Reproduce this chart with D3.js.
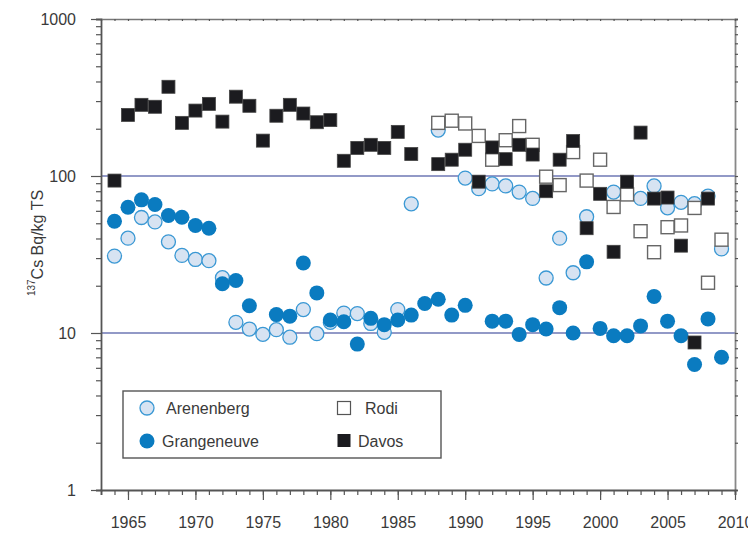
<!DOCTYPE html>
<html>
<head>
<meta charset="utf-8">
<script src="https://cdn.jsdelivr.net/npm/d3@7"></script>
<style>
  body { margin: 0; background: #fff; }
  text { font-family: "Liberation Sans", Arial, sans-serif; fill: #3a3a3a; }
</style>
</head>
<body>
<div id="chart"></div>
<script>
// values (Bq/kg TS)
var arenYears = [1964,1965,1966,1967,1968,1969,1970,1971,1972,1973,1974,1975,1976,1977,1978,1979,1980,1981,1982,1983,1984,1985,1986,1988,1990,1991,1992,1993,1994,1995,1996,1997,1998,1999,2001,2003,2004,2005,2006,2007,2008,2009];
var arenValues = [30.9,40.2,54.4,51,38.1,31.2,29.4,28.9,22.5,11.7,10.6,9.8,10.5,9.4,14.1,9.9,11.7,13.4,13.3,11.5,10.1,14.1,66.5,196,97,83,89,86.5,79,72,22.4,40.2,24.2,55,79,72,86.5,62.7,68,66.6,74.5,34.3];

var grangYears = [1964,1965,1966,1967,1968,1969,1970,1971,1972,1973,1974,1976,1977,1978,1979,1980,1981,1982,1983,1984,1985,1986,1987,1988,1989,1990,1992,1993,1994,1995,1996,1997,1998,1999,2000,2001,2002,2003,2004,2005,2006,2007,2008,2009];
var grangValues = [51.5,63.2,70.5,65.8,56,54.6,48.4,46.5,20.6,21.6,14.9,13.1,12.8,27.9,18,12.1,11.8,8.5,12.4,11.3,12.1,13,15.4,16.4,13,15,11.9,11.9,9.8,11.3,10.6,14.5,10,28.4,10.7,9.6,9.6,11.1,17.1,11.9,9.6,6.3,12.3,7];

var rodiYears = [1988,1989,1990,1991,1992,1993,1994,1995,1996,1997,1998,1999,2000,2001,2002,2003,2004,2005,2006,2007,2008,2009];
var rodiValues = [218,225,216,180,127,169,208,158,99,87.5,142,93.5,127,63.5,76.3,44.5,32.7,47.2,48.4,62.6,20.9,39.3];

var davosYears = [1964,1965,1966,1967,1968,1969,1970,1971,1972,1973,1974,1975,1976,1977,1978,1979,1980,1981,1982,1983,1984,1985,1986,1988,1989,1990,1991,1992,1993,1994,1995,1996,1997,1998,1999,2000,2001,2002,2003,2004,2005,2006,2007,2008];
var davosValues = [93.5,245,284,276,370,218,261,288,222,320,280,168,242,284,250,220,227,125,151,158,151,191,138,119,127,147,92,152,128,158,137,80,127,167,46.5,77,32.9,92,189,71.8,72.9,36,8.7,71.8];

var yMajor = [1, 10, 100, 1000];
var gridValues = [10, 100];
var xMajor = [1965,1970,1975,1980,1985,1990,1995,2000,2005,2010];

var width = 748, height = 538;
var plot = {left: 101, right: 735, top: 19, bottom: 490};

function pairs(years, values) {
    return years.map(function(y, i) { return {year: y, value: values[i]}; });
}

var svg = d3.select("#chart").append("svg")
    .attr("width", width)
    .attr("height", height);

var xScale = d3.scaleLinear().domain([1963, 2010]).range([plot.left, plot.right]);
var yScale = d3.scaleLog().domain([1, 1000]).range([plot.bottom, plot.top]);

// minor log ticks 2..9 per decade
var yMinor = [];
[1, 10, 100].forEach(function(d) {
    for (var k = 2; k <= 9; k++) yMinor.push(d * k);
});
var xMinor = d3.range(1963, 2011);

// grid lines at 10 and 100
svg.selectAll("line.grid")
    .data(gridValues)
    .enter().append("line")
    .attr("class", "grid")
    .attr("x1", plot.left).attr("x2", plot.right)
    .attr("y1", d => yScale(d)).attr("y2", d => yScale(d))
    .style("stroke", "#26348f")
    .style("stroke-width", 1.2);

function styleAxis(g, w) {
    g.select(".domain").style("stroke", "#555").style("stroke-width", w);
    g.selectAll(".tick line").style("stroke", "#555").style("stroke-width", 1.2);
    g.selectAll("text").style("font-size", "16px").style("fill", "#3a3a3a")
        .style("font-family", '"Liberation Sans", Arial, sans-serif');
}

// left axis
var yMinorAxis = svg.append("g")
    .attr("transform", "translate(" + plot.left + ",0)")
    .call(d3.axisLeft(yScale).tickValues(yMinor).tickSize(5).tickFormat(""));
styleAxis(yMinorAxis, 1.8);
var yAxis = svg.append("g")
    .attr("transform", "translate(" + plot.left + ",0)")
    .call(d3.axisLeft(yScale).tickValues(yMajor).tickSize(10).tickPadding(15).tickFormat(d3.format("d")));
styleAxis(yAxis, 1.8);
yAxis.select(".domain").remove();

// right axis
var yRight = svg.append("g")
    .attr("transform", "translate(" + plot.right + ",0)")
    .call(d3.axisRight(yScale).tickValues(yMinor.concat(yMajor)).tickSize(3).tickFormat(""));
styleAxis(yRight, 1.8);
yRight.select(".domain").style("stroke", "#888");

// top axis
var xTop = svg.append("g")
    .attr("transform", "translate(0," + plot.top + ")")
    .call(d3.axisBottom(xScale).tickValues(xMinor).tickSize(2).tickFormat(""));
styleAxis(xTop, 1.5);
xTop.select(".domain").style("stroke", "#777");

// bottom axis
var xMinorAxis = svg.append("g")
    .attr("transform", "translate(0," + plot.bottom + ")")
    .call(d3.axisBottom(xScale).tickValues(xMinor).tickSize(5).tickFormat(""));
styleAxis(xMinorAxis, 1.8);
var xAxis = svg.append("g")
    .attr("transform", "translate(0," + plot.bottom + ")")
    .call(d3.axisBottom(xScale).tickValues(xMajor).tickSize(10).tickPadding(17).tickFormat(d3.format("d")));
styleAxis(xAxis, 1.8);
xAxis.select(".domain").remove();

// y axis title
var ytitle = svg.append("text")
    .attr("transform", "translate(40,243) rotate(-90)")
    .attr("text-anchor", "middle")
    .style("font-size", "16px");
ytitle.append("tspan").attr("dy", "-0.55em").style("font-size", "10px").text("137");
ytitle.append("tspan").attr("dy", "0.55em").text("Cs Bq/kg TS");

// markers
var r = 7, sq = 13;

svg.append("g").selectAll("circle")
    .data(pairs(arenYears, arenValues))
    .enter().append("circle")
    .attr("cx", d => xScale(d.year))
    .attr("cy", d => yScale(d.value))
    .attr("r", r)
    .style("fill", "#d7e3f2")
    .style("stroke", "#3a98d4")
    .style("stroke-width", 1.3);

svg.append("g").selectAll("circle")
    .data(pairs(grangYears, grangValues))
    .enter().append("circle")
    .attr("cx", d => xScale(d.year))
    .attr("cy", d => yScale(d.value))
    .attr("r", r + 0.5)
    .style("fill", "#0a7bc0");

svg.append("g").selectAll("rect")
    .data(pairs(rodiYears, rodiValues))
    .enter().append("rect")
    .attr("x", d => xScale(d.year) - sq / 2)
    .attr("y", d => yScale(d.value) - sq / 2)
    .attr("width", sq).attr("height", sq)
    .style("fill", "#fff")
    .style("stroke", "#666")
    .style("stroke-width", 1.4);

svg.append("g").selectAll("rect")
    .data(pairs(davosYears, davosValues))
    .enter().append("rect")
    .attr("x", d => xScale(d.year) - sq / 2)
    .attr("y", d => yScale(d.value) - sq / 2)
    .attr("width", sq).attr("height", sq)
    .style("fill", "#1b1b1f")
    .style("stroke", "#444")
    .style("stroke-width", 0.8);

// legend
var legend = svg.append("g");
legend.append("rect")
    .attr("x", 123).attr("y", 391)
    .attr("width", 318).attr("height", 67)
    .style("fill", "#fff")
    .style("stroke", "#555")
    .style("stroke-width", 1.4);

legend.append("circle").attr("cx", 147).attr("cy", 408).attr("r", r)
    .style("fill", "#d7e3f2").style("stroke", "#3a98d4").style("stroke-width", 1.3);
legend.append("text").attr("x", 166).attr("y", 414).style("font-size", "16px").text("Arenenberg");

legend.append("circle").attr("cx", 147).attr("cy", 441).attr("r", r + 0.5)
    .style("fill", "#0a7bc0");
legend.append("text").attr("x", 162).attr("y", 447).style("font-size", "16px").text("Grangeneuve");

legend.append("rect").attr("x", 337.5).attr("y", 401.5).attr("width", 13).attr("height", 13)
    .style("fill", "#fff").style("stroke", "#555").style("stroke-width", 1.2);
legend.append("text").attr("x", 365).attr("y", 414).style("font-size", "16px").text("Rodi");

legend.append("rect").attr("x", 337.5).attr("y", 434).attr("width", 13).attr("height", 13)
    .style("fill", "#1b1b1f");
legend.append("text").attr("x", 358).attr("y", 447).style("font-size", "16px").text("Davos");
</script>
</body>
</html>
